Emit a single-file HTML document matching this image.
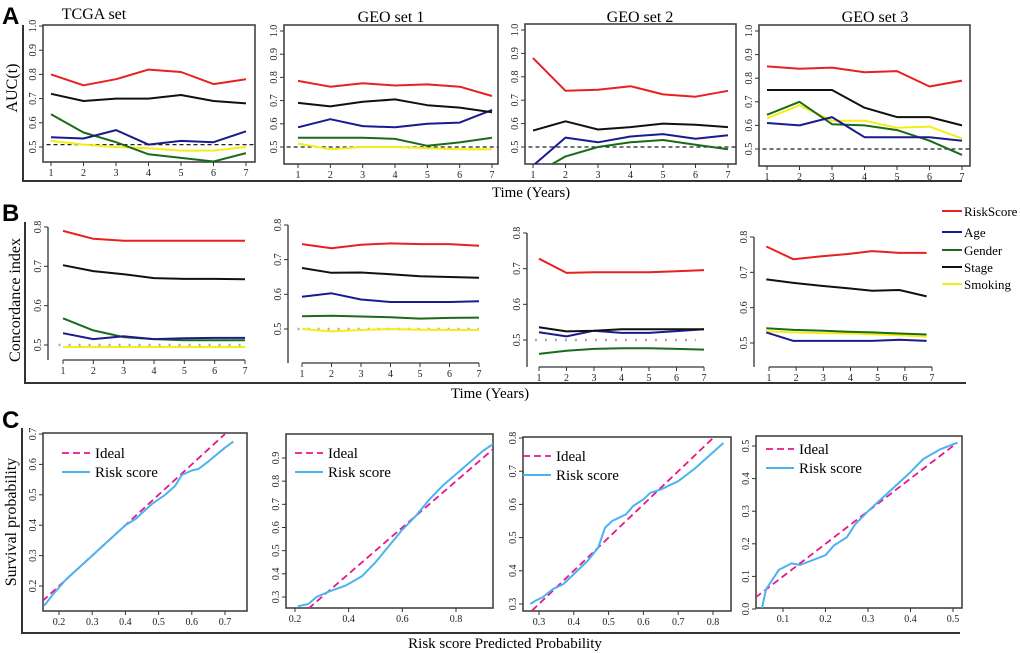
<!DOCTYPE html>
<html><head><meta charset="utf-8"><style>
body{margin:0;background:#fff;width:1020px;height:653px;overflow:hidden}
svg{display:block;font-family:"Liberation Serif",serif}
.pl{font-family:"Liberation Sans",sans-serif;font-weight:bold;font-size:24px}
</style></head><body>
<svg id="fig" width="1020" height="653" viewBox="0 0 1020 653" xmlns="http://www.w3.org/2000/svg">
<text class="pl" x="2" y="24">A</text>
<text class="pl" x="2" y="221">B</text>
<text class="pl" x="2" y="428">C</text>
<text x="94" y="19" font-size="16" text-anchor="middle">TCGA  set</text>
<text x="391" y="22" font-size="16" text-anchor="middle">GEO  set 1</text>
<text x="640" y="22" font-size="16" text-anchor="middle">GEO  set 2</text>
<text x="875" y="22" font-size="16" text-anchor="middle">GEO  set 3</text>
<path d="M23,25 V181 H962" stroke="#333" stroke-width="2" fill="none"/>
<path d="M25,222 V383 H966" stroke="#333" stroke-width="2" fill="none"/>
<path d="M22,428 V633 H960" stroke="#333" stroke-width="2" fill="none"/>
<text transform="translate(17,88) rotate(-90)" font-size="16" text-anchor="middle">AUC(t)</text>
<text x="531" y="197" font-size="15" text-anchor="middle">Time (Years)</text>
<text transform="translate(20,300) rotate(-90)" font-size="16" text-anchor="middle">Concordance index</text>
<text x="490" y="398" font-size="15" text-anchor="middle">Time (Years)</text>
<text transform="translate(16,522) rotate(-90)" font-size="16" text-anchor="middle">Survival probability</text>
<text x="505" y="648" font-size="15" text-anchor="middle">Risk score Predicted Probability</text>
</svg>
<script>
const years=[1,2,3,4,5,6,7];
const yearsB4=[0.9,1.9,2.9,3.9,4.8,5.8,6.8];
const seriesNames=["RiskScore","Age","Gender","Stage","Smoking"];
const a1Risk=[.80,.755,.78,.82,.81,.76,.78];
const a1Stage=[.72,.69,.70,.70,.715,.69,.68];
const a1Gender=[.635,.56,.52,.47,.455,.44,.475];
const a1Age=[.54,.535,.57,.51,.525,.52,.565];
const a1Smoking=[.525,.51,.50,.495,.485,.485,.50];
const a2Risk=[.785,.76,.775,.765,.77,.76,.72];
const a2Stage=[.69,.675,.695,.705,.68,.67,.65];
const a2Age=[.585,.62,.59,.585,.60,.605,.66];
const a2Gender=[.54,.54,.54,.535,.505,.52,.54];
const a2Smoking=[.515,.49,.50,.50,.495,.49,.49];
const a3Risk=[.88,.74,.745,.76,.725,.715,.74];
const a3Stage=[.57,.61,.575,.585,.60,.595,.585];
const a3Age=[.42,.54,.52,.545,.555,.535,.55];
const a3Gender=[.38,.46,.50,.52,.53,.51,.49];
const a4Risk=[.85,.84,.845,.825,.83,.765,.79];
const a4Stage=[.75,.75,.75,.675,.635,.635,.60];
const a4Gender=[.645,.70,.605,.60,.58,.535,.475];
const a4Smoking=[.63,.685,.62,.62,.59,.595,.545];
const a4Age=[.61,.60,.635,.55,.55,.55,.535];
const aRef=[.51,.50,.50,.50];
const aYTicks=[0.5,0.6,0.7,0.8,0.9,1.0];
const b1Risk=[.79,.77,.765,.765,.765,.765,.765];
const b1Stage=[.703,.688,.68,.67,.668,.668,.667];
const b1Gender=[.568,.537,.52,.515,.512,.512,.512];
const b1Age=[.53,.515,.522,.515,.517,.518,.518];
const b1Smoking=[.495,.495,.495,.495,.495,.495,.495];
const b2Risk=[.745,.733,.743,.747,.745,.745,.74];
const b2Stage=[.676,.662,.663,.658,.652,.65,.648];
const b2Age=[.593,.603,.585,.578,.578,.578,.58];
const b2Gender=[.537,.538,.536,.534,.53,.532,.533];
const b2Smoking=[.50,.493,.497,.50,.498,.497,.497];
const b3Risk=[.728,.688,.69,.69,.69,.693,.696];
const b3Stage=[.536,.524,.526,.53,.53,.53,.53];
const b3Age=[.522,.51,.526,.52,.52,.525,.53];
const b3Gender=[.461,.47,.475,.477,.477,.475,.473];
const b4Risk=[.773,.737,.745,.752,.76,.755,.755];
const b4Stage=[.68,.67,.662,.655,.648,.65,.632];
const b4Gender=[.542,.537,.535,.532,.53,.527,.524];
const b4Smoking=[.533,.53,.528,.527,.525,.522,.518];
const b4Age=[.53,.506,.506,.506,.506,.509,.506];
const bYTicks=[0.5,0.6,0.7,0.8];
const c1X=[.155,.18,.22,.25,.3,.35,.4,.43,.48,.52,.55,.57,.6,.62,.65,.7,.725];
const c1Y=[.135,.17,.22,.25,.3,.35,.40,.42,.47,.50,.53,.565,.58,.585,.61,.655,.675];
const c2X=[.21,.25,.28,.33,.39,.45,.5,.55,.6,.65,.7,.75,.8,.85,.9,.95];
const c2Y=[.26,.27,.30,.325,.35,.39,.45,.52,.59,.65,.72,.78,.83,.88,.93,.97];
const c3X=[.275,.29,.31,.34,.37,.4,.44,.47,.49,.51,.53,.55,.57,.6,.62,.65,.7,.75,.83];
const c3Y=[.30,.31,.32,.345,.36,.39,.43,.47,.53,.55,.56,.57,.595,.615,.635,.645,.67,.71,.785];
const c4X=[.05,.06,.09,.12,.14,.2,.22,.25,.27,.3,.35,.4,.43,.47,.51];
const c4Y=[0,.06,.12,.14,.135,.165,.195,.22,.26,.30,.36,.42,.46,.49,.51];
const c1Ideal=[.15,.70];const c2Ideal=[.25,.95];const c3Ideal=[.28,.82];const c4Ideal=[.035,.51];
const c1XT=[.2,.3,.4,.5,.6,.7],c1YT=[.2,.3,.4,.5,.6,.7];
const c2XT=[.2,.4,.6,.8],c2YT=[.3,.4,.5,.6,.7,.8,.9];
const c3XT=[.3,.4,.5,.6,.7,.8],c3YT=[.3,.4,.5,.6,.7,.8];
const c4XT=[.1,.2,.3,.4,.5],c4YT=[0,.1,.2,.3,.4,.5];

const NS="http://www.w3.org/2000/svg";
const svg=document.getElementById('fig');
const COL={RiskScore:"#e8201f",Age:"#1b1a8e",Gender:"#1a6b1a",Stage:"#111",Smoking:"#f4ee14"};
function mk(tag,at,parent){const e=document.createElementNS(NS,tag);for(const k in at)e.setAttribute(k,at[k]);(parent||svg).appendChild(e);return e;}
function lin(v0,p0,v1,p1){return v=>p0+(v-v0)*(p1-p0)/(v1-v0);}
let clipN=0;
function panel(g,name){
  const sx=lin(g.xv0,g.xp0,g.xv1,g.xp1), sy=lin(g.yv0,g.yp0,g.yv1,g.yp1);
  const grp=mk('g',{});
  
  
  const id='cp'+(clipN++);
  const cp=mk('clipPath',{id:id},grp);mk('rect',{x:g.l,y:g.t,width:g.r-g.l,height:g.b-g.t},cp);
  if(g.box){const bx=mk('rect',{x:g.l,y:g.t,width:g.r-g.l,height:g.b-g.t,fill:'none',stroke:'#444','stroke-width':1.6},grp);
    }
  else{
    const ya=mk('line',{x1:g.l,x2:g.l,y1:sy(g.yt[g.yt.length-1]),y2:g.b,stroke:'#333','stroke-width':1.3},grp);
    
    const xa=mk('line',{x1:sx(g.xt[0]),x2:sx(g.xt[g.xt.length-1]),y1:g.b,y2:g.b,stroke:'#333','stroke-width':1.3},grp);
    
  }
  g.xt.forEach(v=>{const x=sx(v);
    mk('line',{x1:x,x2:x,y1:g.b,y2:g.b+4,stroke:'#333'},grp);
    const t=mk('text',{x:x,y:g.b+14,'font-size':10,'text-anchor':'middle',fill:'#222'},grp);t.textContent=v;
    });
  g.yt.forEach(v=>{const y=sy(v);
    mk('line',{x1:g.l-4,x2:g.l,y1:y,y2:y,stroke:'#333'},grp);
    const t=mk('text',{transform:`translate(${g.l-7},${y}) rotate(-90)`,'font-size':10,'text-anchor':'middle',fill:'#222'},grp);t.textContent=v.toFixed(1);
    });
  const inner=mk('g',{'clip-path':`url(#${id})`},grp);
  return {sx,sy,inner};
}
function line(P,xs,ys,color,w,sname,dash){
  const d=xs.map((x,i)=>(i?'L':'M')+P.sx(x).toFixed(1)+','+P.sy(ys[i]).toFixed(1)).join(' ');
  const at={d:d,fill:'none',stroke:color,'stroke-width':w,'stroke-linejoin':'round'};if(dash)at['stroke-dasharray']=dash;
  const p=mk('path',at,P.inner);
  
  
}
function hline(P,v,x0,x1,color,dash,w,sname){line(P,[x0,x1],[v,v],color,w,sname,dash);}
const aGeo=[
 {l:43,r:255,t:25,b:162,xp0:51,xp1:246,yp0:147,yp1:26},
 {l:284,r:498,t:25,b:164,xp0:298,xp1:492,yp0:147,yp1:31},
 {l:525,r:736,t:24,b:164,xp0:533,xp1:728,yp0:147,yp1:30},
 {l:759,r:970,t:25,b:166,xp0:767,xp1:962,yp0:149,yp1:31}];
const aData=[
 {RiskScore:a1Risk,Stage:a1Stage,Gender:a1Gender,Age:a1Age,Smoking:a1Smoking},
 {RiskScore:a2Risk,Stage:a2Stage,Age:a2Age,Gender:a2Gender,Smoking:a2Smoking},
 {RiskScore:a3Risk,Stage:a3Stage,Age:a3Age,Gender:a3Gender},
 {RiskScore:a4Risk,Stage:a4Stage,Gender:a4Gender,Smoking:a4Smoking,Age:a4Age}];
aGeo.forEach((g,i)=>{
  Object.assign(g,{box:true,xv0:1,xv1:7,yv0:0.5,yv1:1.0,xt:years,yt:aYTicks});
  const P=panel(g,'auc-panel-'+(i+1));
  hline(P,aRef[i],0,8,'#222','4,3',1.2,'reference-line');
  ["Smoking","Gender","Age","Stage","RiskScore"].forEach(k=>{if(aData[i][k])line(P,years,aData[i][k],COL[k],2,'line-'+k.toLowerCase());});
});
const bGeo=[
 {l:48,t:222,r:250,b:360,xp0:63,xp1:245,yp0:345,yp1:227},
 {l:288,t:222,r:485,b:363,xp0:302,xp1:479,yp0:329,yp1:225},
 {l:527,t:222,r:710,b:367,xp0:539,xp1:704,yp0:340,yp1:233},
 {l:754,t:222,r:935,b:367,xp0:769,xp1:932,yp0:343,yp1:237}];
const bData=[
 {RiskScore:b1Risk,Stage:b1Stage,Gender:b1Gender,Age:b1Age,Smoking:b1Smoking},
 {RiskScore:b2Risk,Stage:b2Stage,Age:b2Age,Gender:b2Gender,Smoking:b2Smoking},
 {RiskScore:b3Risk,Stage:b3Stage,Age:b3Age,Gender:b3Gender},
 {RiskScore:b4Risk,Stage:b4Stage,Gender:b4Gender,Smoking:b4Smoking,Age:b4Age}];
bGeo.forEach((g,i)=>{
  Object.assign(g,{box:false,xv0:1,xv1:7,yv0:0.5,yv1:0.8,xt:years,yt:bYTicks});
  g.t=0;g.r=1000;
  const P=panel(g,'cindex-panel-'+(i+1));
  const xs=i==3?yearsB4:years;
  if(i<3)hline(P,0.5,0.85,i==2?6.7:7,'#aaa','2,8',2.5,'reference-dots');
  ["Smoking","Gender","Age","Stage","RiskScore"].forEach(k=>{if(bData[i][k])line(P,xs,bData[i][k],COL[k],2,'line-'+k.toLowerCase());});
});
seriesNames.forEach((n,i)=>{
  const y=[211,232,250,267,284][i];
  const g=mk('g',{});
  
  
  mk('line',{x1:942,x2:962,y1:y,y2:y,stroke:COL[n],'stroke-width':2},g);
  const t=mk('text',{x:964,y:y+5,'font-size':13},g);t.textContent=n;
});
const cGeo=[
 {l:43,r:247,t:433,b:611,xv0:.2,xp0:59,xv1:.7,xp1:225,yv0:.2,yp0:586,yv1:.7,yp1:434,xt:c1XT,yt:c1YT},
 {l:286,r:493,t:434,b:608,xv0:.2,xp0:295,xv1:.8,xp1:456,yv0:.3,yp0:597,yv1:.9,yp1:458,xt:c2XT,yt:c2YT},
 {l:523,r:731,t:437,b:611,xv0:.3,xp0:539,xv1:.8,xp1:713,yv0:.3,yp0:604,yv1:.8,yp1:438,xt:c3XT,yt:c3YT},
 {l:756,r:962,t:436,b:608,xv0:.1,xp0:783,xv1:.5,xp1:953,yv0:0,yp0:609,yv1:.5,yp1:446,xt:c4XT,yt:c4YT}];
const cX=[c1X,c2X,c3X,c4X],cY=[c1Y,c2Y,c3Y,c4Y],cI=[c1Ideal,c2Ideal,c3Ideal,c4Ideal];
cGeo.forEach((g,i)=>{
  g.box=true;
  const P=panel(g,'calibration-panel-'+(i+1));
  line(P,cI[i],cI[i],'#e8168a',1.8,'ideal-line','7,4');
  line(P,cX[i],cY[i],'#4bb3f0',2,'risk-score-curve');
  const lx=[62,295,523,766][i], ly=[453,453,456,449][i];
  const lg=mk('g',{});
  
  
  mk('line',{x1:lx,x2:lx+28,y1:ly,y2:ly,stroke:'#e8168a','stroke-width':1.8,'stroke-dasharray':'7,4'},lg);
  const t1=mk('text',{x:lx+33,y:ly+5,'font-size':15},lg);t1.textContent='Ideal';
  mk('line',{x1:lx,x2:lx+28,y1:ly+19,y2:ly+19,stroke:'#4bb3f0','stroke-width':2},lg);
  const t2=mk('text',{x:lx+33,y:ly+24,'font-size':15},lg);t2.textContent='Risk score';
});
</script>
</body></html>
